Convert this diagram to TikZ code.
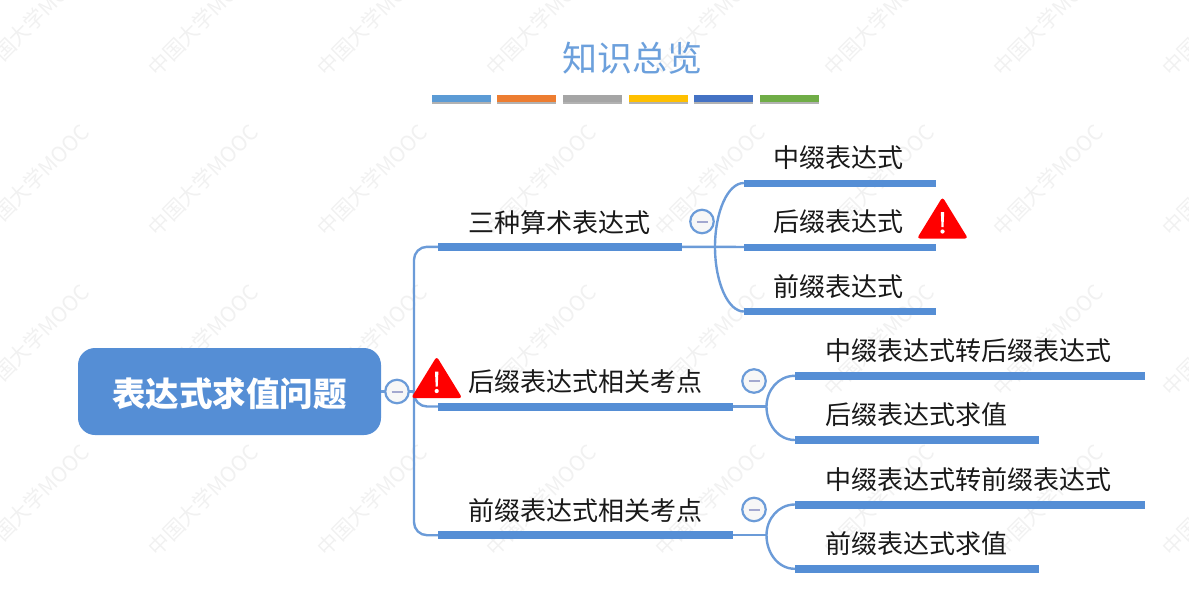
\documentclass[tikz,border=0pt]{standalone}
\usepackage{fontspec}
\setmainfont{Noto Sans CJK SC}
\usetikzlibrary{shadows}
\definecolor{mapblue}{HTML}{558ED5}
\definecolor{linkblue}{HTML}{6B9BD8}
\definecolor{titleblue}{HTML}{6CA0DC}
\definecolor{markgrey}{HTML}{F1F1F1}
\definecolor{dashgrey}{HTML}{A3A8CF}
\begin{document}
\begin{tikzpicture}[
  x=1pt, y=-1pt,
  font=\fontsize{26}{30}\selectfont,
  root/.style={fill=mapblue, rounded corners=17pt, minimum width=303pt, minimum height=87pt, inner sep=0pt},
  bar/.style={fill=mapblue, minimum height=#1, inner sep=0pt},
  bar/.default=7pt,
  rulebar/.style={minimum width=59pt, minimum height=6.5pt, inner sep=0pt, drop shadow={shadow xshift=0pt, shadow yshift=-2.5pt, fill=black, opacity=.3}},
  topic/.style={text=black!90, inner sep=0pt},
  conn/.style={draw=linkblue, line width=2.4pt},
  fold/.style={circle, draw=linkblue, line width=2.2pt, fill=black!3, minimum size=23.5pt, inner sep=0pt,
    path picture={\draw[dashgrey, line width=2pt] ([xshift=-5.5pt]path picture bounding box.center) -- ([xshift=5.5pt]path picture bounding box.center);}},
  wmark/.style={text=markgrey, font=\fontsize{21}{24}\selectfont, rotate=45, inner sep=0pt},
  alert/.pic={
    \fill[red, rounded corners=3pt] (0,-22) -- (25.5,19.5) -- (-25.5,19.5) -- cycle;
    \fill[white] (-1.7,-7) -- (1.7,-7) -- (1,8) -- (-1,8) -- cycle;
    \fill[white] (0,12.5) circle (2.1);
  }
]
\useasboundingbox (0,0) rectangle (1189,595);

\foreach \col in {0,...,7} {
  \foreach \row in {0,...,3} {
    \node[wmark] (mark\col\row) at (34+169*\col,20+160*\row) {中国大学MOOC};
  }
}

\node[text=titleblue, font=\fontsize{35}{40}\selectfont, inner sep=0pt] (title) at (632,58) {知识总览};
\foreach \name/\xpos/\tint in {r1/461.5/5B9BD5, r2/526/ED7D31, r3/592.5/A5A5A5, r4/658.5/FFC000, r5/723.5/4472C4, r6/789.5/70AD47} {
  \definecolor{rulefill}{HTML}{\tint}
  \node[rulebar, fill=rulefill] (\name) at (\xpos,98.5) {};
}

\node[root] (root) at (229.5,391.5) {};
\node[text=white, font=\fontsize{33.5}{38}\bfseries\selectfont, inner sep=0pt] (rootlabel) at (229.5,393.5) {表达式求值问题};

\node[bar=8pt, minimum width=244pt] (b1) at (560,246.8) {};
\node[bar=8pt, minimum width=295pt] (b2) at (585.5,406.5) {};
\node[bar=8pt, minimum width=295pt] (b3) at (585.5,535.2) {};
\node[bar, minimum width=192pt] (s1) at (840,183) {};
\node[bar, minimum width=192pt] (s2) at (840,247) {};
\node[bar, minimum width=192pt] (s3) at (840,311.5) {};
\node[bar=8pt, minimum width=350pt] (d1) at (970,375.8) {};
\node[bar=8pt, minimum width=244pt] (d2) at (917,440) {};
\node[bar=8pt, minimum width=350pt] (d3) at (970,504.5) {};
\node[bar=8pt, minimum width=244pt] (d4) at (917,568.8) {};

\node[topic] (t1) at (559,222.8) {三种算术表达式};
\node[topic] (t2) at (585,381.8) {后缀表达式相关考点};
\node[topic] (t3) at (585,510.8) {前缀表达式相关考点};
\node[topic] (l1) at (838,157.8) {中缀表达式};
\node[topic] (l2) at (838,221.8) {后缀表达式};
\node[topic] (l3) at (838,286.8) {前缀表达式};
\node[topic] (l4) at (968.5,350.8) {中缀表达式转后缀表达式};
\node[topic] (l5) at (916,414.8) {后缀表达式求值};
\node[topic] (l6) at (968.5,479.8) {中缀表达式转前缀表达式};
\node[topic] (l7) at (916,543.8) {前缀表达式求值};

\coordinate (j0) at (414,391.5);
\coordinate (j1) at (715,246.8);
\coordinate (j2) at (766.5,406.5);
\coordinate (j3) at (766.5,535.2);

\draw[conn] (root.east) -- (j0);
\draw[conn, rounded corners=13pt] (j0) |- (b1.west);
\draw[conn, rounded corners=13pt] (j0) |- (b2.west);
\draw[conn, rounded corners=13pt] (j0) |- (b3.west);
\draw[conn] (b1.east) -- (j1) -- (s2.west);
\draw[conn] (j1) .. controls +(0,-35) and +(-16,0) .. (s1.west);
\draw[conn] (j1) .. controls +(0,35) and +(-16,0) .. (s3.west);
\draw[conn] (b2.east) -- (j2);
\draw[conn] (j2) to[out=90, in=180] (d1.west);
\draw[conn] (j2) to[out=-90, in=180] (d2.west);
\draw[conn] (b3.east) -- (j3);
\draw[conn] (j3) to[out=90, in=180] (d3.west);
\draw[conn] (j3) to[out=-90, in=180] (d4.west);

\node[fold] (c0) at (397,391.5) {};
\node[fold] (c1) at (702,221.5) {};
\node[fold] (c2) at (754,381) {};
\node[fold] (c3) at (754,509.5) {};

\pic at (436.7,378.5) {alert};
\pic at (942.5,219) {alert};
\end{tikzpicture}
\end{document}
